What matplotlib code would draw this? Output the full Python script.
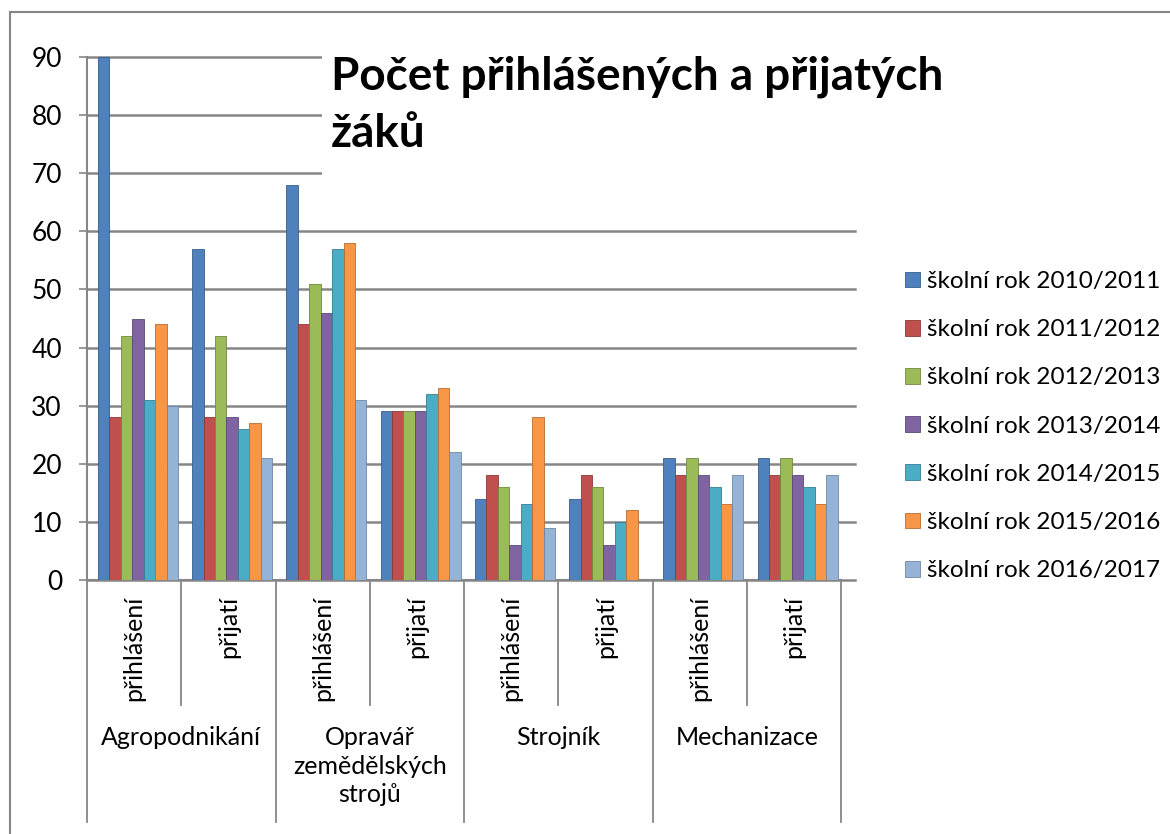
import numpy as np
import matplotlib.pyplot as plt
from matplotlib.patches import Rectangle
from matplotlib.lines import Line2D

plt.rcParams['font.family'] = ['Lato', 'DejaVu Sans']

# data
obory = ['Agropodnikání', 'Opravář\nzemědělských\nstrojů', 'Strojník', 'Mechanizace']
skupiny = ['přihlášení', 'přijatí']
roky = ['školní rok 2010/2011', 'školní rok 2011/2012', 'školní rok 2012/2013',
        'školní rok 2013/2014', 'školní rok 2014/2015', 'školní rok 2015/2016',
        'školní rok 2016/2017']
r2010 = [90, 57, 68, 29, 14, 14, 21, 21]
r2011 = [28, 28, 44, 29, 18, 18, 18, 18]
r2012 = [42, 42, 51, 29, 16, 16, 21, 21]
r2013 = [45, 28, 46, 29, 6, 6, 18, 18]
r2014 = [31, 26, 57, 32, 13, 10, 16, 16]
r2015 = [44, 27, 58, 33, 28, 12, 13, 13]
r2016 = [30, 21, 31, 22, 9, 0, 18, 18]
serie = [r2010, r2011, r2012, r2013, r2014, r2015, r2016]

barvy = ['#4F81BD', '#C0504D', '#9BBB59', '#8064A2', '#4BACC6', '#F79646', '#95B3D7']
hrany = ['#385D8A', '#8C3836', '#71893F', '#5C4776', '#357D91', '#B66D31', '#6F87A3']
seda = '#868686'

W, H = 1170, 834
Y0, Y90 = 580, 57  # pixel rows of 0 and 90


def ay(py):
    return (Y0 - py) / (Y0 - Y90)


fig = plt.figure(figsize=(W / 100, H / 100), dpi=100)
ax = fig.add_axes([87 / W, 1 - Y0 / H, (841 - 87) / W, (Y0 - Y90) / H])

x = np.arange(len(r2010))
w = 0.85 / len(serie)
for k, vals in enumerate(serie):
    ax.bar(x - 0.425 + w * (k + 0.5) + 0.04, vals, w, color=barvy[k],
           edgecolor=hrany[k], linewidth=0.6, label=roky[k], zorder=3)

ax.set_xlim(-0.5, 7.5)
ax.set_ylim(0, 90)
ax.set_yticks(range(0, 91, 10))
ax.set_xticks([])
for s in ['top', 'right']:
    ax.spines[s].set_visible(False)
for s in ['left', 'bottom']:
    ax.spines[s].set_color(seda)
    ax.spines[s].set_linewidth(1.5)
ax.tick_params(axis='y', length=6, width=1.2, color=seda, pad=12, labelsize=19)

# gridlines run a bit past the last category like the 3D back wall
for v in range(10, 91, 10):
    ax.plot([-0.5, 7.65], [v, v], color=seda, lw=1.8, clip_on=False, zorder=1)
ax.plot([-0.5, 7.65], [0, 0], color=seda, lw=1.8, clip_on=False, zorder=1)

# two-level category axis
trans = ax.get_xaxis_transform()
for i in range(len(x)):
    ax.text(i, ay(596), skupiny[i % 2], rotation=90, ha='center', va='top',
            fontsize=18, transform=trans)
for xs in [0.5, 2.5, 4.5, 6.5]:
    ax.plot([xs, xs], [ay(582), ay(705)], transform=trans, clip_on=False,
            color=seda, lw=1.3)
for xs in [-0.5, 1.5, 3.5, 5.5, 7.5]:
    ax.plot([xs, xs], [ay(582), ay(822)], transform=trans, clip_on=False,
            color=seda, lw=1.3)
for j, name in enumerate(obory):
    ax.text(2 * j + 0.5, ay(726), name, ha='center', va='top', fontsize=18,
            linespacing=1.3, transform=trans)

# title with white fill over the gridlines
fig.add_artist(Rectangle((322 / W, 1 - 200 / H), (960 - 322) / W, 162 / H,
                         transform=fig.transFigure, facecolor='white',
                         edgecolor='none', zorder=5))
fig.text(331 / W, 1 - 55 / H, 'Počet přihlášených a přijatých\nžáků',
         fontsize=33, fontweight='bold', ha='left', va='top', linespacing=1.45,
         zorder=6)

# outer frame
fig.add_artist(Line2D([10 / W, 10 / W], [0, 1 - 12 / H], color=seda, lw=1.5))
fig.add_artist(Line2D([10 / W, 1], [1 - 12 / H, 1 - 12 / H], color=seda, lw=1.5))

ax.legend(loc='upper left', bbox_to_anchor=(905 / W, 1 - 271 / H),
          bbox_transform=fig.transFigure, frameon=False, fontsize=17.5,
          handlelength=0.62, handleheight=0.62, handletextpad=0.3,
          labelspacing=1.12, borderaxespad=0, borderpad=0)

fig.savefig('out.png', dpi=100)
